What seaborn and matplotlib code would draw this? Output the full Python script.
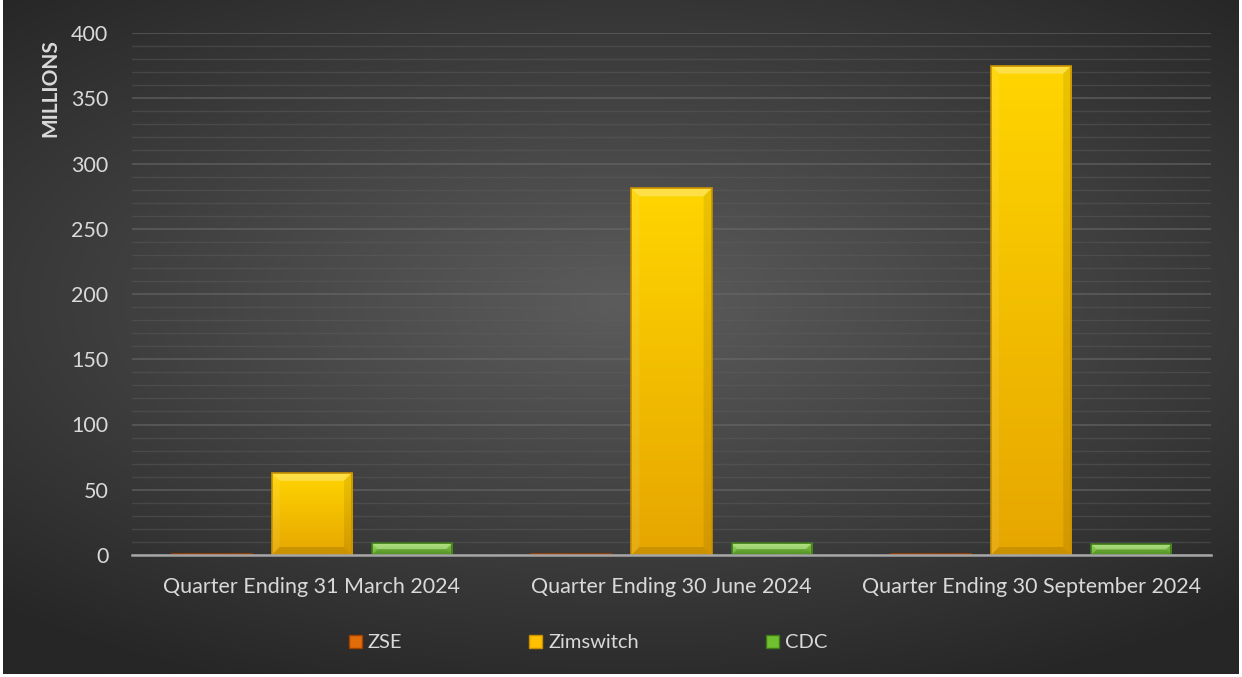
import numpy as np
import pandas as pd
import matplotlib
matplotlib.use("Agg")
import matplotlib.pyplot as plt
from matplotlib.ticker import MultipleLocator
from matplotlib.patches import Patch, Polygon
import seaborn as sns

categories = ["Quarter Ending 31 March 2024", "Quarter Ending 30 June 2024", "Quarter Ending 30 September 2024"]
zse = [0.6, 0.6, 0.6]
zimswitch = [63, 281, 375]
cdc = [9, 9, 8.5]
series_names = ["ZSE", "Zimswitch", "CDC"]

df = pd.DataFrame({
    "Quarter": categories * 3,
    "Value": zse + zimswitch + cdc,
    "Series": [s for s in series_names for _ in categories],
})

sns.set_theme(style="white")
plt.rcParams['font.family'] = ['Lato', 'DejaVu Sans']

W, H = 1242, 677
fig = plt.figure(figsize=(W / 100, H / 100), dpi=100)
fig.patch.set_facecolor("white")

# background with radial gradient
bg = fig.add_axes([3 / W, 3 / H, (W - 6) / W, (H - 3) / H])
bg.set_axis_off()
yy, xx = np.mgrid[0:1:200j, 0:1:360j]
r = np.sqrt(((xx - 0.5) * 1.0) ** 2 + ((yy - 0.45) * 1.2) ** 2)
r = np.clip(r / 0.75, 0, 1)
c0 = np.array([0x5c, 0x5c, 0x5c]) / 255
c1 = np.array([0x26, 0x26, 0x26]) / 255
img = c0[None, None, :] * (1 - r[..., None]) + c1[None, None, :] * r[..., None]
bg.imshow(img, aspect="auto", extent=[0, 1, 0, 1], interpolation="bilinear")
bg.set_xlim(0, 1)
bg.set_ylim(0, 1)

ax_left, ax_right, ax_top, ax_bot = 132, 1211, 33, 555
ax = fig.add_axes([ax_left / W, 1 - ax_bot / H, (ax_right - ax_left) / W, (ax_bot - ax_top) / H])
ax.patch.set_alpha(0)

palette = {"ZSE": "#E36C0A", "Zimswitch": "#FFC000", "CDC": "#70C030"}
sns.barplot(data=df, x="Quarter", y="Value", hue="Series", hue_order=series_names,
            palette=palette, width=0.836, gap=0.2, ax=ax, legend=False,
            saturation=1, zorder=3)

ax.set_xlim(-0.5, 2.5)
ax.set_ylim(0, 400)

grads = {
    "ZSE": ("#F08030", "#C05010"),
    "Zimswitch": ("#FFD500", "#E6A600"),
    "CDC": ("#92D84C", "#5EA82C"),
}
edges = {"ZSE": "#A04000", "Zimswitch": "#C99000", "CDC": "#3E7A1A"}
px_x = 3.0 / (ax_right - ax_left)   # data units per pixel (x)
px_y = 400.0 / (ax_bot - ax_top)    # data units per pixel (y)
for i, name in enumerate(series_names):
    cont = ax.containers[i]
    for p in cont.patches:
        x0, y0 = p.get_x(), p.get_y()
        w, h = p.get_width(), p.get_height()
        x1, y1 = x0 + w, y0 + h
        top = matplotlib.colors.to_rgb(grads[name][0])
        bot = matplotlib.colors.to_rgb(grads[name][1])
        t = np.linspace(0, 1, 64)[:, None]
        g = np.array(top)[None, :] * (1 - t) + np.array(bot)[None, :] * t
        g = g[:, None, :].repeat(2, axis=1)
        im = ax.imshow(g, extent=[x0, x1, y0, y1], aspect="auto", zorder=4,
                       interpolation="bilinear")
        im.set_clip_path(p)
        # bevel
        hp = h / px_y
        b = min(8.0, hp / 2.0)
        if b >= 1.5:
            bx, by = b * px_x, b * px_y
            topb = Polygon([(x0, y1), (x1, y1), (x1 - bx, y1 - by), (x0 + bx, y1 - by)],
                           closed=True, facecolor="white", alpha=0.28, edgecolor="none", zorder=4.5)
            botb = Polygon([(x0, y0), (x1, y0), (x1 - bx, y0 + by), (x0 + bx, y0 + by)],
                           closed=True, facecolor="black", alpha=0.12, edgecolor="none", zorder=4.5)
            lb = Polygon([(x0, y0), (x0, y1), (x0 + bx, y1 - by), (x0 + bx, y0 + by)],
                         closed=True, facecolor="white", alpha=0.08, edgecolor="none", zorder=4.5)
            rb = Polygon([(x1, y0), (x1, y1), (x1 - bx, y1 - by), (x1 - bx, y0 + by)],
                         closed=True, facecolor="black", alpha=0.08, edgecolor="none", zorder=4.5)
            for poly in (topb, botb, lb, rb):
                ax.add_patch(poly)
        p.set_edgecolor(edges[name])
        p.set_linewidth(1.2)
        p.set_zorder(5)
        p.set_facecolor("none")

ax.yaxis.set_major_locator(MultipleLocator(50))
ax.yaxis.set_minor_locator(MultipleLocator(10))
ax.grid(axis="y", which="major", color="#6a6a6a", alpha=0.6, linewidth=1.3, zorder=0)
ax.grid(axis="y", which="minor", color="#5e5e5e", alpha=0.45, linewidth=1.0, zorder=0)
ax.set_axisbelow(True)
for s in ["top", "right", "left"]:
    ax.spines[s].set_visible(False)
ax.spines["bottom"].set_color("#A6A6A6")
ax.spines["bottom"].set_linewidth(1.8)
ax.spines["bottom"].set_zorder(6)

txt = "#D9D9D9"
ax.tick_params(axis="both", which="both", length=0, colors=txt, labelsize=15.5)
ax.tick_params(axis="x", pad=16)
ax.tick_params(axis="y", pad=17)
ax.set_xlabel("")
ax.set_ylabel("MILLIONS", color=txt, fontsize=15, fontweight="bold")
ax.yaxis.set_label_coords(-0.066, 0.895)

handles = [Patch(facecolor=palette[n], edgecolor=edges[n]) for n in series_names]
leg = fig.legend(handles, series_names, loc="center", bbox_to_anchor=(0.4735, 1 - 643 / H),
                 ncol=3, frameon=False, fontsize=14.5, labelcolor=txt,
                 handlelength=0.65, handleheight=0.65, handletextpad=0.3, columnspacing=6.3)

fig.savefig("out.png", dpi=100, facecolor=fig.get_facecolor())
